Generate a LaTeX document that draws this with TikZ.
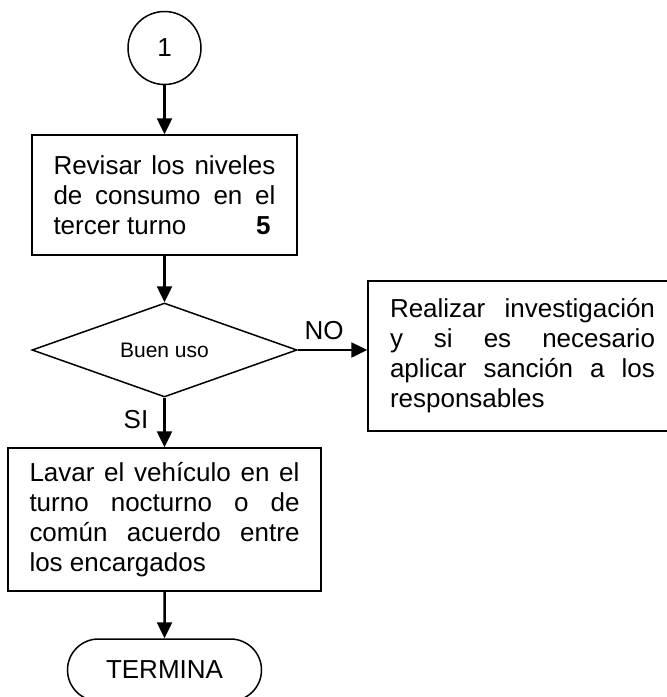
\documentclass[tikz,border=0pt]{standalone}
\usepackage{fontspec}
\setmainfont{Liberation Sans}
\usetikzlibrary{arrows.meta,shapes.geometric,shapes.misc}
\newcommand{\jl}[2]{\makebox[#1][s]{#2}}
\begin{document}
\begin{tikzpicture}[x=1pt,y=-1pt,
  procbox/.style={draw, line width=1.5pt, rectangle, inner sep=0pt, align=left,
    font=\fontsize{26}{30}\selectfont},
  flow/.style={line width=2.5pt, -{Triangle[length=16pt,width=15pt]}},
  lbl/.style={font=\fontsize{26}{30}\selectfont, inner sep=0pt}]
\useasboundingbox (0,0) rectangle (667,697);
\node[draw, circle, line width=1.5pt, minimum size=73pt, inner sep=0pt,
  font=\fontsize{26}{30}\selectfont] (c1) at (164.5,48) {1};
\node[procbox, minimum width=265pt, minimum height=120pt] (b1) at (164.5,195)
  {\parbox{222pt}{\jl{222pt}{Revisar los niveles}\\\jl{222pt}{de consumo en el}\\tercer turno\hfill\textbf{5}\hspace*{5pt}}};
\node[draw, diamond, aspect=2.82, minimum width=265pt, minimum height=94pt,
  inner sep=0pt, line width=1.5pt, font=\fontsize{21}{25}\selectfont] (d) at (164.5,350) {Buen uso};
\node[procbox, minimum width=309pt, minimum height=150pt] (rb) at (522.5,356)
  {\parbox{265pt}{\jl{265pt}{Realizar investigación}\\\jl{265pt}{y si es necesario}\\\jl{265pt}{aplicar sanción a los}\\responsables}};
\node[procbox, minimum width=313pt, minimum height=143pt] (b2) at (164.5,519.5)
  {\parbox{270pt}{\jl{270pt}{Lavar el vehículo en el}\\\jl{270pt}{turno nocturno o de}\\\jl{270pt}{común acuerdo entre}\\los encargados}};
\node[draw, rounded rectangle, minimum width=194pt, minimum height=62pt, inner sep=0pt,
  line width=1.5pt, font=\fontsize{26}{30}\selectfont] (t) at (164.5,670) {TERMINA};
\node[lbl] (no) at (324,331) {NO};
\node[lbl] (si) at (136,420) {SI};
\draw[flow] (c1) -- (b1);
\draw[flow] (b1) -- (d);
\draw[flow] (d.east) -- (d.east -| rb.west);
\draw[flow] (d) -- (b2);
\draw[flow] (b2) -- (t);
\end{tikzpicture}
\end{document}
